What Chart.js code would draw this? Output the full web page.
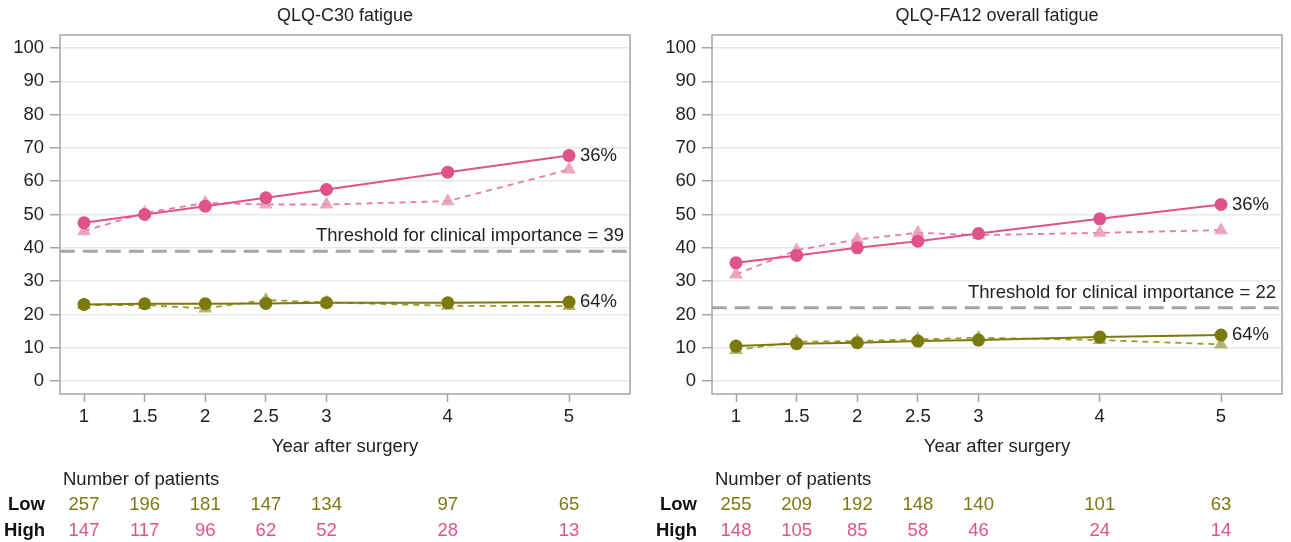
<!DOCTYPE html>
<html lang="en">
<head>
<meta charset="UTF-8">
<title>Fatigue by year after surgery</title>
<script src="https://cdn.jsdelivr.net/npm/chart.js"></script>
<style>
  body { margin: 0; background: #fff; }
  #wrap { position: relative; width: 1291px; height: 542px; }
  canvas { position: absolute; top: 0; }
</style>
</head>
<body>
<div id="wrap">
  <canvas id="c30" width="645" height="542" style="left:0"></canvas>
  <canvas id="fa12" width="646" height="542" style="left:645px"></canvas>
</div>

<script>
// === data ===
const years = [1, 1.5, 2, 2.5, 3, 4, 5];
const yTicks = [0, 10, 20, 30, 40, 50, 60, 70, 80, 90, 100];

// QLQ-C30 fatigue
const c30HighFit = [47.5, 50, 52.5, 55, 57.5, 62.7, 67.7];
const c30HighObs = [45, 50.5, 53.5, 53, 53, 54, 63.5];
const c30LowFit  = [23, 23.2, 23.2, 23.3, 23.5, 23.5, 23.7];
const c30LowObs  = [22.8, 22.8, 21.8, 24.3, 23.6, 22.6, 22.5];
const c30Threshold = 39;
const c30Pct = ["36%", "64%"];
const c30NLow  = [257, 196, 181, 147, 134, 97, 65];
const c30NHigh = [147, 117, 96, 62, 52, 28, 13];

// QLQ-FA12 overall fatigue
const fa12HighFit = [35.5, 37.7, 40, 42, 44.3, 48.7, 53];
const fa12HighObs = [32, 39.3, 42.5, 44.5, 43.8, 44.5, 45.3];
const fa12LowFit  = [10.5, 11.2, 11.5, 12, 12.3, 13.2, 13.8];
const fa12LowObs  = [9.3, 11.8, 12, 12.5, 13, 12.3, 11];
const fa12Threshold = 22;
const fa12Pct = ["36%", "64%"];
const fa12NLow  = [255, 209, 192, 148, 140, 101, 63];
const fa12NHigh = [148, 105, 85, 58, 46, 24, 14];

const PINK = "#e0538a";
const PINK_LIGHT = "rgba(232,150,182,0.85)";
const OLIVE = "#7b7a0e";
const OLIVE_LIGHT = "rgba(165,163,80,0.8)";
const GRAY = "#a3a7ab";
const FONT = "'Liberation Sans', Arial, sans-serif";

function pts(vals) {
    return vals.map((v, i) => ({ x: years[i], y: v }));
}

function makeChart(id, cfg) {
    const fitLine = (vals, color) => ({
        data: pts(vals),
        borderColor: color,
        borderWidth: 2,
        pointStyle: "circle",
        pointRadius: 6.5,
        pointBackgroundColor: color,
        pointBorderWidth: 0
    });
    const obsLine = (vals, line, fill) => ({
        data: pts(vals),
        borderColor: line,
        borderWidth: 1.8,
        borderDash: [6, 5],
        pointStyle: "triangle",
        pointRadius: 8,
        pointBackgroundColor: fill,
        pointBorderWidth: 0
    });

    // box, title, labels and the patient table
    const extras = {
        id: "extras",
        afterDatasetsDraw(chart) {
            const ctx = chart.ctx;
            const a = chart.chartArea;
            const xs = chart.scales.x, ys = chart.scales.y;
            ctx.save();
            ctx.strokeStyle = GRAY;
            ctx.lineWidth = 1.5;
            ctx.strokeRect(a.left, a.top, a.right - a.left, a.bottom - a.top);

            ctx.fillStyle = "#222";
            ctx.font = "18px " + FONT;
            ctx.textAlign = "center";
            ctx.textBaseline = "middle";
            ctx.fillText(cfg.title, (a.left + a.right) / 2, 16);

            ctx.font = "18.5px " + FONT;
            ctx.textAlign = "right";
            ctx.fillText("Threshold for clinical importance = " + cfg.threshold,
                a.right - 6, ys.getPixelForValue(cfg.threshold) - 15);

            ctx.textAlign = "left";
            const x5 = xs.getPixelForValue(years[years.length - 1]) + 11;
            ctx.fillText(cfg.pct[0], x5, ys.getPixelForValue(cfg.highFit[cfg.highFit.length - 1]));
            ctx.fillText(cfg.pct[1], x5, ys.getPixelForValue(cfg.lowFit[cfg.lowFit.length - 1]));

            // number of patients
            ctx.fillText("Number of patients", a.left + 3, 480);
            ctx.font = "bold 18.5px " + FONT;
            ctx.textAlign = "right";
            ctx.fillStyle = "#111";
            ctx.fillText("Low", a.left - 15, 505);
            ctx.fillText("High", a.left - 15, 531);
            ctx.font = "18.5px " + FONT;
            ctx.textAlign = "center";
            years.forEach((yr, i) => {
                const px = xs.getPixelForValue(yr);
                ctx.fillStyle = OLIVE;
                ctx.fillText(String(cfg.nLow[i]), px, 505);
                ctx.fillStyle = PINK;
                ctx.fillText(String(cfg.nHigh[i]), px, 531);
            });
            ctx.restore();
        }
    };

    return new Chart(document.getElementById(id), {
        type: "line",
        data: {
            datasets: [
                fitLine(cfg.highFit, PINK),
                obsLine(cfg.highObs, "#e87aa5", PINK_LIGHT),
                fitLine(cfg.lowFit, OLIVE),
                obsLine(cfg.lowObs, "#9c9a2c", OLIVE_LIGHT),
                {
                    data: [{ x: 0.8, y: cfg.threshold }, { x: 5.52, y: cfg.threshold }],
                    borderColor: GRAY,
                    borderWidth: 3,
                    borderDash: [15, 8],
                    pointRadius: 0
                }
            ]
        },
        options: {
            responsive: false,
            animation: false,
            layout: { padding: { left: 0, right: cfg.padRight, top: 35, bottom: 78 } },
            plugins: { legend: { display: false }, tooltip: { enabled: false } },
            scales: {
                x: {
                    type: "linear",
                    min: 0.802,
                    max: 5.503,
                    afterBuildTicks: s => { s.ticks = years.map(v => ({ value: v })); },
                    afterFit: s => { s.height = 70; },
                    grid: { drawOnChartArea: false, drawTicks: true, tickLength: 8, tickColor: GRAY, tickWidth: 1.5 },
                    border: { display: false },
                    ticks: { color: "#222", font: { family: FONT, size: 18.5 }, padding: 4, maxRotation: 0,
                             autoSkip: false, callback: v => String(v) },
                    title: { display: true, text: "Year after surgery", color: "#222",
                             font: { family: FONT, size: 18.5 }, padding: { top: 0, bottom: 6 } }
                },
                y: {
                    min: -3.9,
                    max: 103.9,
                    afterBuildTicks: s => { s.ticks = yTicks.map(v => ({ value: v })); },
                    afterFit: s => { s.width = cfg.yWidth; },
                    grid: { color: "#e6e8e9", lineWidth: 1.5, tickLength: 10, tickColor: GRAY, tickWidth: 1.5 },
                    border: { display: false },
                    ticks: { color: "#222", font: { family: FONT, size: 18.5 }, padding: 6 }
                }
            }
        },
        plugins: [extras]
    });
}

makeChart("c30", {
    title: "QLQ-C30 fatigue",
    highFit: c30HighFit, highObs: c30HighObs, lowFit: c30LowFit, lowObs: c30LowObs,
    threshold: c30Threshold, pct: c30Pct, nLow: c30NLow, nHigh: c30NHigh,
    yWidth: 60, padRight: 15
});

makeChart("fa12", {
    title: "QLQ-FA12 overall fatigue",
    highFit: fa12HighFit, highObs: fa12HighObs, lowFit: fa12LowFit, lowObs: fa12LowObs,
    threshold: fa12Threshold, pct: fa12Pct, nLow: fa12NLow, nHigh: fa12NHigh,
    yWidth: 67, padRight: 9
});
</script>
</body>
</html>
